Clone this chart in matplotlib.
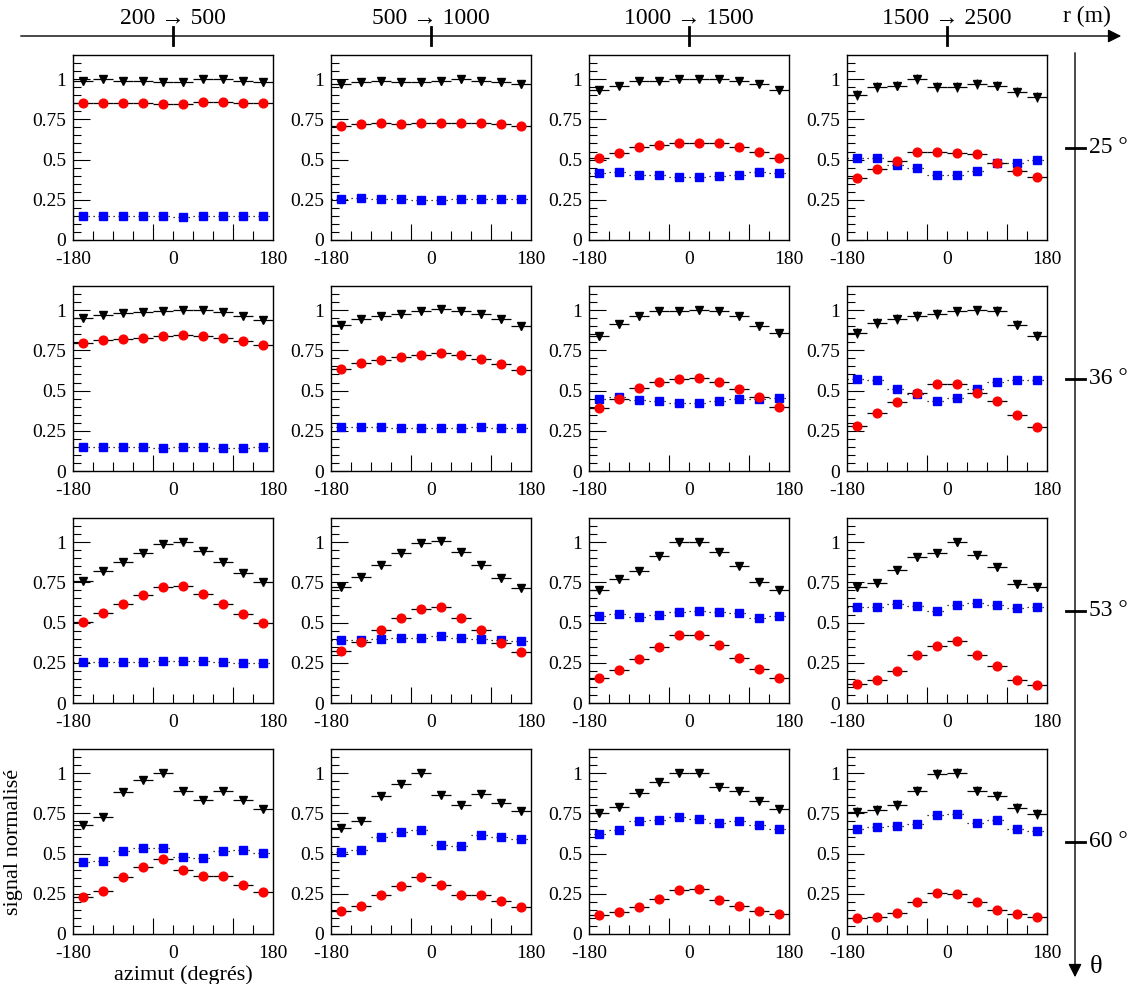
import matplotlib
matplotlib.use("Agg")
import matplotlib.pyplot as plt

plt.rcParams['font.family'] = ['Liberation Serif', 'DejaVu Serif']

# centres des bins en azimut (degres)
azimut = [-162, -126, -90, -54, -18, 18, 54, 90, 126, 162]
half_bin = 18
r_bins = ["200 → 500", "500 → 1000", "1000 → 1500", "1500 → 2500"]
theta_bins = ["25 °", "36 °", "53 °", "60 °"]

# une liste par bin en r, une variable par bin en theta
black_25 = [[0.99, 1.0, 0.99, 0.99, 0.98, 0.98, 1.0, 1.0, 0.99, 0.98],
            [0.97, 0.98, 0.99, 0.98, 0.98, 0.99, 1.0, 0.99, 0.98, 0.97],
            [0.93, 0.96, 0.99, 0.99, 1.0, 1.0, 1.0, 0.99, 0.97, 0.93],
            [0.90, 0.95, 0.96, 1.0, 0.95, 0.95, 0.97, 0.96, 0.92, 0.89]]
red_25 = [[0.85, 0.85, 0.85, 0.85, 0.845, 0.845, 0.855, 0.855, 0.85, 0.85],
          [0.71, 0.72, 0.73, 0.72, 0.73, 0.73, 0.73, 0.73, 0.72, 0.71],
          [0.51, 0.54, 0.58, 0.59, 0.605, 0.605, 0.60, 0.58, 0.55, 0.51],
          [0.385, 0.44, 0.49, 0.55, 0.547, 0.538, 0.534, 0.478, 0.432, 0.39]]
blue_25 = [[0.148, 0.148, 0.148, 0.148, 0.148, 0.146, 0.148, 0.148, 0.148, 0.148],
           [0.255, 0.259, 0.255, 0.253, 0.248, 0.248, 0.253, 0.257, 0.257, 0.257],
           [0.416, 0.42, 0.406, 0.402, 0.389, 0.391, 0.395, 0.406, 0.42, 0.416],
           [0.511, 0.511, 0.468, 0.449, 0.401, 0.401, 0.428, 0.478, 0.478, 0.497]]

black_36 = [[0.951, 0.969, 0.984, 0.99, 0.994, 1.0, 1.0, 0.988, 0.961, 0.94],
            [0.91, 0.946, 0.965, 0.975, 0.994, 1.005, 0.992, 0.975, 0.942, 0.902],
            [0.841, 0.911, 0.965, 0.994, 0.996, 1.0, 0.994, 0.963, 0.9, 0.855],
            [0.856, 0.921, 0.946, 0.965, 0.977, 0.992, 0.998, 0.994, 0.91, 0.842]]
red_36 = [[0.796, 0.812, 0.823, 0.829, 0.837, 0.845, 0.841, 0.825, 0.806, 0.784],
          [0.631, 0.671, 0.69, 0.71, 0.719, 0.731, 0.723, 0.698, 0.667, 0.625],
          [0.389, 0.445, 0.513, 0.553, 0.571, 0.576, 0.555, 0.511, 0.458, 0.398],
          [0.281, 0.358, 0.429, 0.483, 0.54, 0.542, 0.485, 0.438, 0.348, 0.275]]
blue_36 = [[0.148, 0.148, 0.148, 0.148, 0.144, 0.148, 0.148, 0.144, 0.144, 0.148],
           [0.273, 0.271, 0.271, 0.265, 0.265, 0.265, 0.269, 0.271, 0.269, 0.269],
           [0.449, 0.46, 0.443, 0.437, 0.42, 0.422, 0.437, 0.445, 0.445, 0.451],
           [0.571, 0.567, 0.51, 0.479, 0.435, 0.452, 0.51, 0.556, 0.565, 0.565]]

black_53 = [[0.759, 0.819, 0.878, 0.934, 0.99, 1.0, 0.946, 0.878, 0.81, 0.755],
            [0.723, 0.781, 0.86, 0.933, 0.994, 1.01, 0.938, 0.86, 0.775, 0.715],
            [0.704, 0.768, 0.822, 0.911, 0.998, 1.0, 0.938, 0.851, 0.752, 0.704],
            [0.719, 0.748, 0.829, 0.906, 0.933, 1.0, 0.919, 0.844, 0.74, 0.719]]
red_53 = [[0.501, 0.559, 0.616, 0.67, 0.718, 0.73, 0.676, 0.614, 0.551, 0.497],
          [0.323, 0.381, 0.454, 0.527, 0.583, 0.594, 0.527, 0.454, 0.375, 0.319],
          [0.157, 0.207, 0.275, 0.35, 0.42, 0.42, 0.358, 0.282, 0.209, 0.155],
          [0.117, 0.146, 0.202, 0.296, 0.354, 0.383, 0.298, 0.227, 0.142, 0.115]]
blue_53 = [[0.252, 0.254, 0.256, 0.256, 0.262, 0.262, 0.26, 0.254, 0.249, 0.249],
           [0.394, 0.394, 0.4, 0.402, 0.406, 0.415, 0.402, 0.4, 0.392, 0.385],
           [0.538, 0.553, 0.534, 0.549, 0.567, 0.573, 0.567, 0.557, 0.53, 0.542],
           [0.594, 0.594, 0.613, 0.606, 0.571, 0.61, 0.619, 0.61, 0.59, 0.598]]

black_60 = [[0.68, 0.728, 0.88, 0.955, 1.0, 0.889, 0.831, 0.887, 0.831, 0.775],
            [0.658, 0.702, 0.855, 0.932, 1.0, 0.863, 0.803, 0.87, 0.814, 0.766],
            [0.752, 0.787, 0.876, 0.942, 1.0, 1.0, 0.911, 0.886, 0.824, 0.776],
            [0.76, 0.769, 0.802, 0.892, 0.994, 1.0, 0.892, 0.86, 0.785, 0.744]]
red_60 = [[0.233, 0.266, 0.357, 0.416, 0.464, 0.398, 0.361, 0.363, 0.307, 0.262],
          [0.141, 0.174, 0.244, 0.296, 0.354, 0.304, 0.244, 0.244, 0.203, 0.168],
          [0.116, 0.137, 0.166, 0.219, 0.275, 0.28, 0.213, 0.172, 0.141, 0.122],
          [0.102, 0.108, 0.131, 0.202, 0.254, 0.25, 0.196, 0.152, 0.123, 0.106]]
blue_60 = [[0.445, 0.454, 0.513, 0.532, 0.534, 0.476, 0.474, 0.515, 0.522, 0.505],
           [0.507, 0.524, 0.602, 0.634, 0.644, 0.553, 0.549, 0.613, 0.602, 0.59],
           [0.623, 0.646, 0.70, 0.708, 0.725, 0.714, 0.689, 0.704, 0.675, 0.652],
           [0.654, 0.663, 0.671, 0.683, 0.74, 0.748, 0.69, 0.706, 0.654, 0.638]]

# erreurs (approx.) par case : lignes theta, colonnes r
err_black = [[0.02, 0.025, 0.02, 0.03],
             [0.015, 0.025, 0.025, 0.03],
             [0.01, 0.02, 0.02, 0.025],
             [0.01, 0.012, 0.02, 0.03]]
err_red = [[0.015, 0.02, 0.01, 0.01],
           [0.015, 0.02, 0.01, 0.01],
           [0.01, 0.01, 0.005, 0.005],
           [0.005, 0.005, 0.005, 0.005]]
err_blue = [[0.005, 0.005, 0.005, 0.005],
            [0.005, 0.005, 0.005, 0.01],
            [0.005, 0.005, 0.005, 0.015],
            [0.005, 0.005, 0.015, 0.02]]

blacks = [black_25, black_36, black_53, black_60]
reds = [red_25, red_36, red_53, red_60]
blues = [blue_25, blue_36, blue_53, blue_60]

W, H = 1144, 984
fig = plt.figure(figsize=(W / 100, H / 100), dpi=100)

col_left = [73, 331, 589, 847]
row_top = [55, 286, 518, 749]
pw, ph = 200, 185

for i in range(4):
    for j in range(4):
        ax = fig.add_axes([col_left[j] / W, 1 - (row_top[i] + ph) / H, pw / W, ph / H])
        series = [(blues[i][j], err_blue[i][j], 's', 'blue', 5.8, ':'),
                  (reds[i][j], err_red[i][j], 'o', 'red', 6.3, '-'),
                  (blacks[i][j], err_black[i][j], 'v', 'black', 5.8, '-')]
        for y, e, m, c, ms, ls in series:
            eb = ax.errorbar(azimut, y, xerr=half_bin, yerr=e, fmt=m, color=c,
                             ms=ms, mec=c, ecolor='black', elinewidth=0.9, capsize=0)
            if ls != '-':
                eb[2][0].set_linestyle((0, (1, 3)))
        ax.set_xlim(-180, 180)
        ax.set_ylim(0, 1.15)
        for s in ax.spines.values():
            s.set_linewidth(1.0)
        ax.set_yticks([0, 0.25, 0.5, 0.75, 1.0], ['0', '0.25', '0.5', '0.75', '1'])
        ax.set_yticks([k * 0.05 for k in range(23)], minor=True)
        ax.set_xticks([-36, 108], ['', ''])
        ax.set_xticks([-144, -108, -72, -36, 0, 36, 72, 108, 144], minor=True)
        ax.tick_params(axis='y', which='major', direction='in', length=12, width=0.8,
                       labelsize=14, pad=5)
        ax.tick_params(axis='y', which='minor', direction='in', length=6, width=0.8)
        ax.tick_params(axis='x', which='major', direction='in', length=11.5, width=0.8)
        ax.tick_params(axis='x', which='minor', direction='in', length=6.3, width=0.8)
        sec = ax.secondary_xaxis('bottom')
        sec.set_xticks([-180, 0, 180], ['-180', '0', '180'])
        sec.tick_params(length=0, labelsize=14, pad=8)
        sec.spines['bottom'].set_visible(False)
        if i == 3 and j == 0:
            ax.set_ylabel('signal normalisé', fontsize=16)
            ax.yaxis.set_label_coords(-0.25, 0.5)
            ax.text(0.55, -0.22, 'azimut (degrés)', transform=ax.transAxes,
                    fontsize=16, ha='center', va='center')

# axes r et theta dessines en coordonnees pixel
ov = fig.add_axes([0, 0, 1, 1], zorder=-1)
ov.set_xlim(0, W)
ov.set_ylim(H, 0)
ov.axis('off')
ov.annotate('', xy=(1124, 36), xytext=(18, 36),
            arrowprops=dict(arrowstyle='-|>', color='black', lw=1.0, mutation_scale=20))
for j in range(4):
    xc = col_left[j] + pw / 2
    ov.plot([xc, xc], [27, 45], color='black', lw=2)
    ov.text(xc, 18, r_bins[j], fontsize=17, ha='center', va='center')
ov.text(1087, 16, 'r (m)', fontsize=17, ha='center', va='center')

ov.annotate('', xy=(1075, 980), xytext=(1075, 50),
            arrowprops=dict(arrowstyle='-|>', color='black', lw=1.0, mutation_scale=20))
for i in range(4):
    yc = row_top[i] + ph / 2
    ov.plot([1066, 1085], [yc, yc], color='black', lw=2)
    ov.text(1089, yc, theta_bins[i], fontsize=17, ha='left', va='center')
ov.text(1090, 967, 'θ', fontsize=19, ha='left', va='center')

fig.savefig('out.png', dpi=100)
